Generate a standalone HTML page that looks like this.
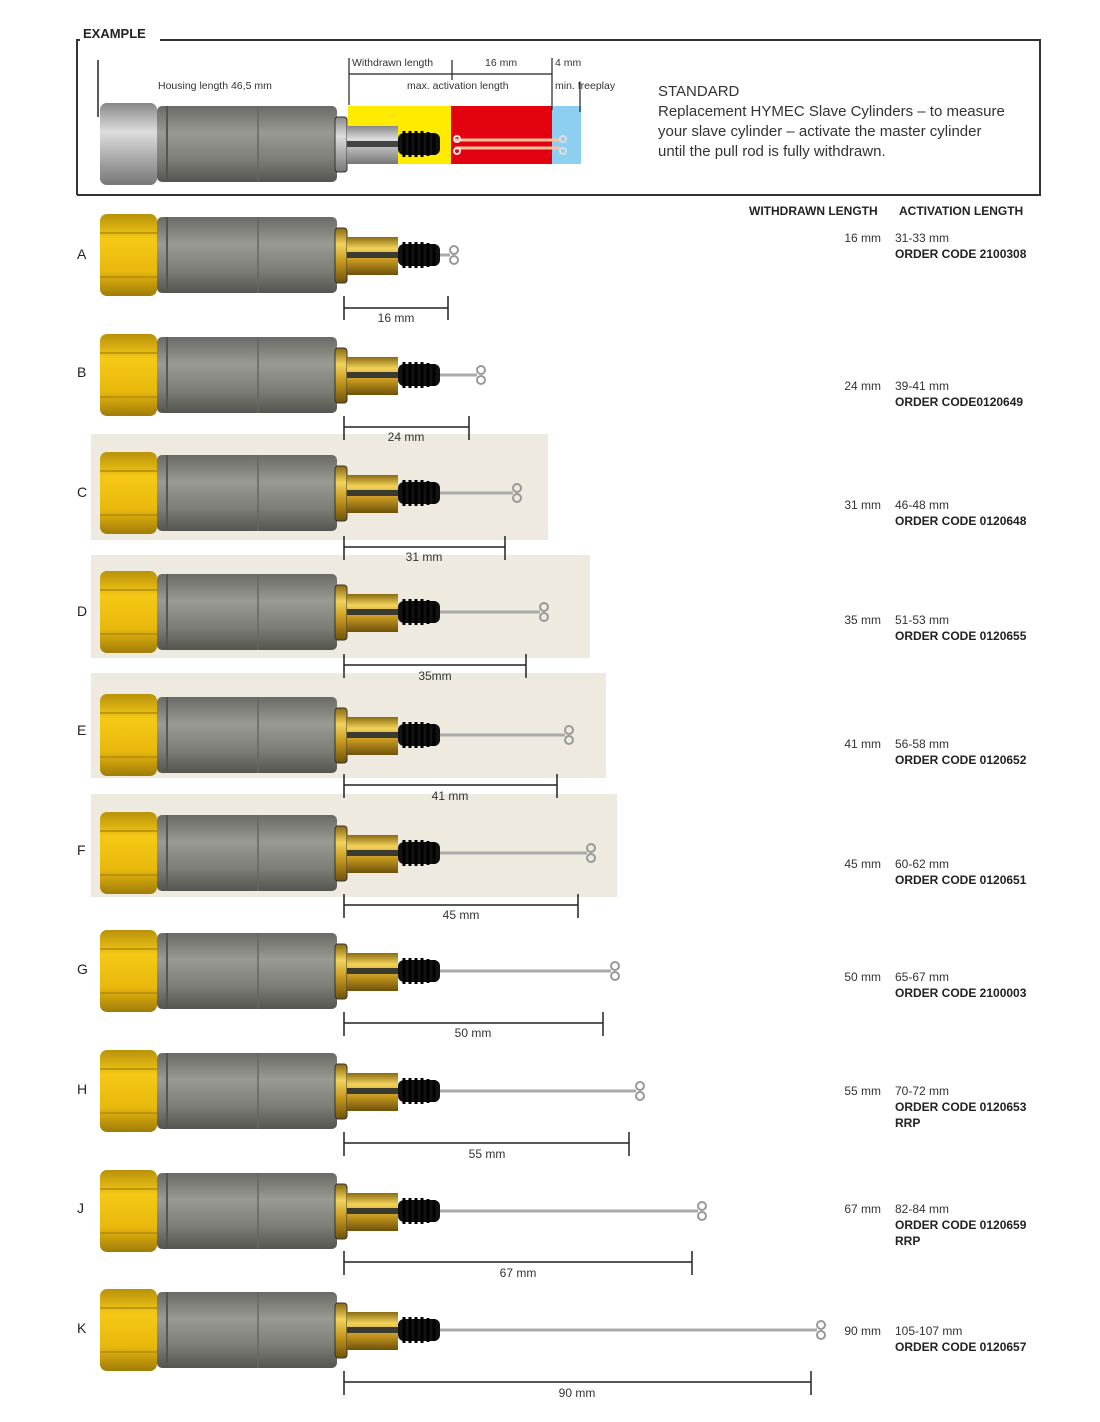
<!DOCTYPE html>
<html><head><meta charset="utf-8"><style>
body{margin:0;background:#fff;}
svg{display:block;font-family:"Liberation Sans",sans-serif;}
.b{font-weight:bold;font-size:12px;fill:#222}
.n{font-size:12px;fill:#333}
.s{font-size:10.5px;fill:#333}
.l{font-size:15px;fill:#333}
</style></head><body>
<svg width="1100" height="1422" viewBox="0 0 1100 1422">
<defs>
<linearGradient id="gold" x1="0" y1="0" x2="0" y2="1"><stop offset="0" stop-color="#b8920a"/><stop offset=".3" stop-color="#f5c915"/><stop offset=".7" stop-color="#e8b80c"/><stop offset="1" stop-color="#a07c08"/></linearGradient>
<linearGradient id="gray" x1="0" y1="0" x2="0" y2="1"><stop offset="0" stop-color="#6a6a66"/><stop offset=".35" stop-color="#9a9a94"/><stop offset=".7" stop-color="#7e7e78"/><stop offset="1" stop-color="#555550"/></linearGradient>
<linearGradient id="silv" x1="0" y1="0" x2="0" y2="1"><stop offset="0" stop-color="#888"/><stop offset=".35" stop-color="#ddd"/><stop offset="1" stop-color="#777"/></linearGradient>
<linearGradient id="brass" x1="0" y1="0" x2="0" y2="1"><stop offset="0" stop-color="#8a6a10"/><stop offset=".3" stop-color="#f2d35a"/><stop offset=".6" stop-color="#c89a20"/><stop offset="1" stop-color="#6e520a"/></linearGradient>
<g id="cyl">
<rect x="157" y="-38" width="180" height="76" rx="5" fill="url(#gray)"/>
<line x1="167" y1="-38" x2="167" y2="38" stroke="#555" stroke-width="2"/>
<line x1="258" y1="-38" x2="258" y2="38" stroke="#666" stroke-width="1.5"/>
<rect x="100" y="-41" width="57" height="82" rx="7" fill="url(#gold)"/>
<line x1="100" y1="-22" x2="157" y2="-22" stroke="#b08a10" stroke-width="1.5"/>
<line x1="100" y1="22" x2="157" y2="22" stroke="#b08a10" stroke-width="1.5"/>
<rect x="335" y="-27" width="12" height="55" rx="3" fill="url(#brass)" stroke="#333" stroke-width="1"/>
<rect x="347" y="-18" width="51" height="38" fill="url(#brass)"/>
<rect x="347" y="-3" width="51" height="6" fill="#3a3a30"/>
<rect x="398" y="-11" width="42" height="22" rx="6" fill="#111"/>
<path d="M404 -13v26M410 -13v26M416 -13v26M422 -13v26M428 -12v24M434 -11v22" stroke="#000" stroke-width="3"/>
</g>
</defs>

<!-- EXAMPLE box -->
<path d="M77 195V40H80M160 40H1040V195H77" fill="none" stroke="#333" stroke-width="2"/>
<text x="83" y="38" class="b" style="font-size:13px">EXAMPLE</text>
<line x1="98" y1="60" x2="98" y2="117" stroke="#222" stroke-width="1.5"/>
<text x="158" y="89" class="s">Housing length 46,5 mm</text>
<rect x="348" y="106" width="103" height="58" fill="#ffeb00"/>
<rect x="451" y="106" width="101" height="58" fill="#e3000f"/>
<rect x="552" y="106" width="29" height="58" fill="#8dcff0"/>
<use href="#cyl" transform="translate(0,144)"/>
<rect x="100" y="103" width="57" height="82" rx="7" fill="url(#silv)"/>
<rect x="335" y="117" width="12" height="55" rx="3" fill="url(#silv)" stroke="#333" stroke-width="1"/>
<rect x="347" y="126" width="51" height="38" fill="url(#silv)"/>
<rect x="347" y="141" width="51" height="6" fill="#444"/>
<line x1="455" y1="140" x2="560" y2="140" stroke="#f7c0a0" stroke-width="3"/>
<line x1="455" y1="148" x2="560" y2="148" stroke="#f7c0a0" stroke-width="3"/>
<circle cx="457" cy="139" r="3" fill="none" stroke="#eee" stroke-width="2"/><circle cx="457" cy="151" r="3" fill="none" stroke="#eee" stroke-width="2"/>
<circle cx="563" cy="139" r="3" fill="none" stroke="#ddd" stroke-width="2"/><circle cx="563" cy="151" r="3" fill="none" stroke="#ddd" stroke-width="2"/>
<path d="M349 58V105M349 74H552M452 60V80M552 58V110M580 82V112" stroke="#222" stroke-width="1.2" fill="none"/>
<text x="352" y="66" class="s">Withdrawn length</text>
<text x="485" y="66" class="s">16 mm</text>
<text x="555" y="66" class="s">4 mm</text>
<text x="407" y="89" class="s">max. activation length</text>
<text x="555" y="89" class="s">min. freeplay</text>
<text x="658" y="96" class="l">STANDARD</text>
<text x="658" y="116" class="l">Replacement HYMEC Slave Cylinders – to measure</text>
<text x="658" y="136" class="l">your slave cylinder – activate the master cylinder</text>
<text x="658" y="156" class="l">until the pull rod is fully withdrawn.</text>

<text x="749" y="215" class="b">WITHDRAWN LENGTH</text>
<text x="899" y="215" class="b">ACTIVATION LENGTH</text>

<rect x="91" y="434" width="457" height="106" fill="#efeadf"/>
<rect x="91" y="555" width="499" height="103" fill="#efeadf"/>
<rect x="91" y="673" width="515" height="105" fill="#efeadf"/>
<rect x="91" y="794" width="526" height="103" fill="#efeadf"/>

<g stroke-width="1.5">
<g transform="translate(0,255)"><line x1="440" y1="0" x2="450" y2="0" stroke="#aaa" stroke-width="3"/><use href="#cyl"/><circle cx="454" cy="-5" r="4" fill="none" stroke="#999" stroke-width="2"/><circle cx="454" cy="5" r="4" fill="none" stroke="#999" stroke-width="2"/></g>
<g transform="translate(0,375)"><line x1="440" y1="0" x2="477" y2="0" stroke="#aaa" stroke-width="3"/><use href="#cyl"/><circle cx="481" cy="-5" r="4" fill="none" stroke="#999" stroke-width="2"/><circle cx="481" cy="5" r="4" fill="none" stroke="#999" stroke-width="2"/></g>
<g transform="translate(0,493)"><line x1="440" y1="0" x2="513" y2="0" stroke="#aaa" stroke-width="3"/><use href="#cyl"/><circle cx="517" cy="-5" r="4" fill="none" stroke="#999" stroke-width="2"/><circle cx="517" cy="5" r="4" fill="none" stroke="#999" stroke-width="2"/></g>
<g transform="translate(0,612)"><line x1="440" y1="0" x2="540" y2="0" stroke="#aaa" stroke-width="3"/><use href="#cyl"/><circle cx="544" cy="-5" r="4" fill="none" stroke="#999" stroke-width="2"/><circle cx="544" cy="5" r="4" fill="none" stroke="#999" stroke-width="2"/></g>
<g transform="translate(0,735)"><line x1="440" y1="0" x2="565" y2="0" stroke="#aaa" stroke-width="3"/><use href="#cyl"/><circle cx="569" cy="-5" r="4" fill="none" stroke="#999" stroke-width="2"/><circle cx="569" cy="5" r="4" fill="none" stroke="#999" stroke-width="2"/></g>
<g transform="translate(0,853)"><line x1="440" y1="0" x2="587" y2="0" stroke="#aaa" stroke-width="3"/><use href="#cyl"/><circle cx="591" cy="-5" r="4" fill="none" stroke="#999" stroke-width="2"/><circle cx="591" cy="5" r="4" fill="none" stroke="#999" stroke-width="2"/></g>
<g transform="translate(0,971)"><line x1="440" y1="0" x2="611" y2="0" stroke="#aaa" stroke-width="3"/><use href="#cyl"/><circle cx="615" cy="-5" r="4" fill="none" stroke="#999" stroke-width="2"/><circle cx="615" cy="5" r="4" fill="none" stroke="#999" stroke-width="2"/></g>
<g transform="translate(0,1091)"><line x1="440" y1="0" x2="636" y2="0" stroke="#aaa" stroke-width="3"/><use href="#cyl"/><circle cx="640" cy="-5" r="4" fill="none" stroke="#999" stroke-width="2"/><circle cx="640" cy="5" r="4" fill="none" stroke="#999" stroke-width="2"/></g>
<g transform="translate(0,1211)"><line x1="440" y1="0" x2="698" y2="0" stroke="#aaa" stroke-width="3"/><use href="#cyl"/><circle cx="702" cy="-5" r="4" fill="none" stroke="#999" stroke-width="2"/><circle cx="702" cy="5" r="4" fill="none" stroke="#999" stroke-width="2"/></g>
<g transform="translate(0,1330)"><line x1="440" y1="0" x2="817" y2="0" stroke="#aaa" stroke-width="3"/><use href="#cyl"/><circle cx="821" cy="-5" r="4" fill="none" stroke="#999" stroke-width="2"/><circle cx="821" cy="5" r="4" fill="none" stroke="#999" stroke-width="2"/></g>
</g>

<g stroke="#222" stroke-width="1.5" fill="none">
<path d="M344 296v24M344 308H448M448 296v24"/>
<path d="M344 416v24M344 427H469M469 416v24"/>
<path d="M344 536v24M344 547H505M505 536v24"/>
<path d="M344 654v24M344 665H526M526 654v24"/>
<path d="M344 774v24M344 785H557M557 774v24"/>
<path d="M344 894v24M344 905H578M578 894v24"/>
<path d="M344 1012v24M344 1023H603M603 1012v24"/>
<path d="M344 1132v24M344 1143H629M629 1132v24"/>
<path d="M344 1251v24M344 1262H692M692 1251v24"/>
<path d="M344 1371v24M344 1382H811M811 1371v24"/>
</g>
<g class="n" text-anchor="middle">
<text x="396" y="322">16 mm</text><text x="406" y="441">24 mm</text><text x="424" y="561">31 mm</text><text x="435" y="680">35mm</text><text x="450" y="800">41 mm</text><text x="461" y="919">45 mm</text><text x="473" y="1037">50 mm</text><text x="487" y="1158">55 mm</text><text x="518" y="1277">67 mm</text><text x="577" y="1397">90 mm</text>
</g>
<g style="font-size:14px;fill:#222">
<text x="77" y="259">A</text><text x="77" y="377">B</text><text x="77" y="497">C</text><text x="77" y="616">D</text><text x="77" y="735">E</text><text x="77" y="855">F</text><text x="77" y="974">G</text><text x="77" y="1094">H</text><text x="77" y="1213">J</text><text x="77" y="1333">K</text>
</g>
<g class="n" text-anchor="end">
<text x="881" y="242">16 mm</text><text x="881" y="390">24 mm</text><text x="881" y="509">31 mm</text><text x="881" y="624">35 mm</text><text x="881" y="748">41 mm</text><text x="881" y="868">45 mm</text><text x="881" y="981">50 mm</text><text x="881" y="1095">55 mm</text><text x="881" y="1213">67 mm</text><text x="881" y="1335">90 mm</text>
</g>
<g class="n">
<text x="895" y="242">31-33 mm</text><text x="895" y="390">39-41 mm</text><text x="895" y="509">46-48 mm</text><text x="895" y="624">51-53 mm</text><text x="895" y="748">56-58 mm</text><text x="895" y="868">60-62 mm</text><text x="895" y="981">65-67 mm</text><text x="895" y="1095">70-72 mm</text><text x="895" y="1213">82-84 mm</text><text x="895" y="1335">105-107 mm</text>
</g>
<g class="b">
<text x="895" y="258">ORDER CODE 2100308</text><text x="895" y="406">ORDER CODE0120649</text><text x="895" y="525">ORDER CODE 0120648</text><text x="895" y="640">ORDER CODE 0120655</text><text x="895" y="764">ORDER CODE 0120652</text><text x="895" y="884">ORDER CODE 0120651</text><text x="895" y="997">ORDER CODE 2100003</text><text x="895" y="1111">ORDER CODE 0120653</text><text x="895" y="1127">RRP</text><text x="895" y="1229">ORDER CODE 0120659</text><text x="895" y="1245">RRP</text><text x="895" y="1351">ORDER CODE 0120657</text>
</g>
</svg>
</body></html>
